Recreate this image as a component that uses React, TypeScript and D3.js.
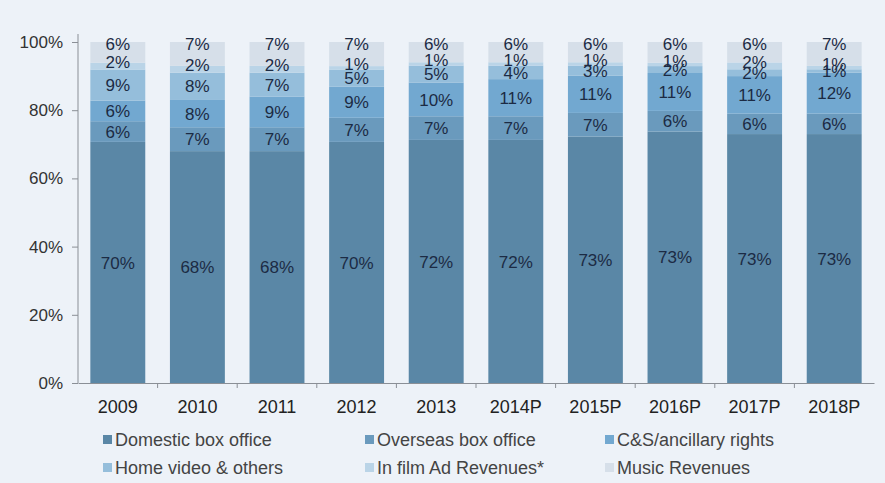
import React, { useEffect, useRef } from "react";
import * as d3 from "d3";

// categories and series (share of revenue, %)
const years = ["2009", "2010", "2011", "2012", "2013", "2014P", "2015P", "2016P", "2017P", "2018P"];
const domestic = [70, 68, 68, 70, 72, 72, 73, 73, 73, 73];
const overseas = [6, 7, 7, 7, 7, 7, 7, 6, 6, 6];
const ancillary = [6, 8, 9, 9, 10, 11, 11, 11, 11, 12];
const homeVideo = [9, 8, 7, 5, 5, 4, 3, 2, 2, 1];
const inFilmAd = [2, 2, 2, 1, 1, 1, 1, 1, 2, 1];
const music = [6, 7, 7, 7, 6, 6, 6, 6, 6, 7];

const seriesNames = [
  "Domestic box office",
  "Overseas box office",
  "C&S/ancillary  rights",
  "Home video & others",
  "In film Ad Revenues*",
  "Music Revenues",
];
const seriesValues = [domestic, overseas, ancillary, homeVideo, inFilmAd, music];
const colors = ["#5a87a6", "#6a9abd", "#72a8d0", "#95bedb", "#bad4e7", "#d6dfe9"];
const yTicks = [0, 0.2, 0.4, 0.6, 0.8, 1];

const App: React.FC = () => {
  const svgRef = useRef<SVGSVGElement | null>(null);

  useEffect(() => {
    const width = 885;
    const height = 483;
    const margin = { top: 42, right: 11, bottom: 100, left: 78 };
    const innerWidth = width - margin.left - margin.right;
    const innerHeight = height - margin.top - margin.bottom;
    const font = "'Liberation Sans', Arial, sans-serif";

    const svg = d3.select(svgRef.current);
    svg.selectAll("*").remove();

    svg.append("rect").attr("width", width).attr("height", height).attr("fill", "#edf2f8");

    const chart = svg.append("g").attr("transform", `translate(${margin.left}, ${margin.top})`);

    // table for the stack
    const rows = years.map((y, i) => {
      const row: any = { year: y };
      seriesNames.forEach((n, k) => (row[n] = seriesValues[k][i]));
      return row;
    });

    const stacked = d3.stack<any>().keys(seriesNames).offset(d3.stackOffsetExpand)(rows);

    const x = d3.scaleBand().domain(years).range([0, innerWidth]).paddingInner(0.31).paddingOuter(0.155);
    const y = d3.scaleLinear().domain([0, 1]).range([innerHeight, 0]);

    // bars
    const groups = chart
      .selectAll(".series")
      .data(stacked)
      .enter()
      .append("g")
      .attr("class", "series")
      .attr("fill", (d, i) => colors[i]);

    groups
      .selectAll("rect")
      .data((d) => d)
      .enter()
      .append("rect")
      .attr("x", (d) => x(d.data.year)!)
      .attr("y", (d) => y(d[1]))
      .attr("width", x.bandwidth())
      .attr("height", (d) => y(d[0]) - y(d[1]));

    // value labels: top one sits at the bar top, the thin one below is nudged up
    const last = stacked.length - 1;
    const labelY = (d: any, k: number) => {
      if (k === last) return y(d[1]) + 2;
      const mid = y((d[0] + d[1]) / 2);
      return k === last - 1 ? mid - 4 : mid;
    };
    stacked.forEach((s, k) => {
      chart
        .append("g")
        .selectAll("text")
        .data(s)
        .enter()
        .append("text")
        .attr("x", (d) => x(d.data.year)! + x.bandwidth() / 2)
        .attr("y", (d) => labelY(d, k))
        .attr("dy", "0.36em")
        .attr("text-anchor", "middle")
        .attr("font-family", font)
        .attr("font-size", 17)
        .attr("fill", "#1c2b44")
        .text((d, i) => `${seriesValues[k][i]}%`);
    });

    // y axis
    const yAxis = chart
      .append("g")
      .call(d3.axisLeft(y).tickValues(yTicks).tickFormat(d3.format(".0%")).tickSize(6).tickPadding(9));
    yAxis.select(".domain").attr("stroke", "#8a8f96").attr("d", `M0,${innerHeight}V${-8}`);
    yAxis.selectAll(".tick line").attr("stroke", "#8a8f96");
    yAxis
      .selectAll("text")
      .attr("font-family", font)
      .attr("font-size", 17)
      .attr("fill", "#333");

    // x axis
    const xAxis = chart
      .append("g")
      .attr("transform", `translate(0, ${innerHeight})`)
      .call(d3.axisBottom(x).tickSize(0).tickPadding(17));
    xAxis.select(".domain").attr("stroke", "#8a8f96");
    xAxis
      .selectAll("text")
      .attr("font-family", font)
      .attr("font-size", 18)
      .attr("fill", "#222");

    // separator ticks between categories
    const step = x.step();
    chart
      .append("g")
      .selectAll("line")
      .data(years.slice(1))
      .enter()
      .append("line")
      .attr("x1", (d) => x(d)! - (step - x.bandwidth()) / 2)
      .attr("x2", (d) => x(d)! - (step - x.bandwidth()) / 2)
      .attr("y1", innerHeight)
      .attr("y2", innerHeight + 5)
      .attr("stroke", "#8a8f96");

    // legend
    const legendX = [103, 365, 605];
    const legendY = [440, 468];
    const legend = svg.append("g");
    seriesNames.forEach((n, i) => {
      const lx = legendX[i % 3];
      const ly = legendY[Math.floor(i / 3)];
      legend
        .append("rect")
        .attr("x", lx)
        .attr("y", ly - 5)
        .attr("width", 9)
        .attr("height", 9)
        .attr("fill", colors[i]);
      legend
        .append("text")
        .attr("x", lx + 12)
        .attr("y", ly)
        .attr("dy", "0.36em")
        .attr("font-family", font)
        .attr("font-size", 18)
        .attr("fill", "#444")
        .text(n);
    });
  }, []);

  return (
    <svg
      ref={svgRef}
      width={885}
      height={483}
      style={{ position: "absolute", left: 0, top: 0, display: "block" }}
    />
  );
};

export default App;
